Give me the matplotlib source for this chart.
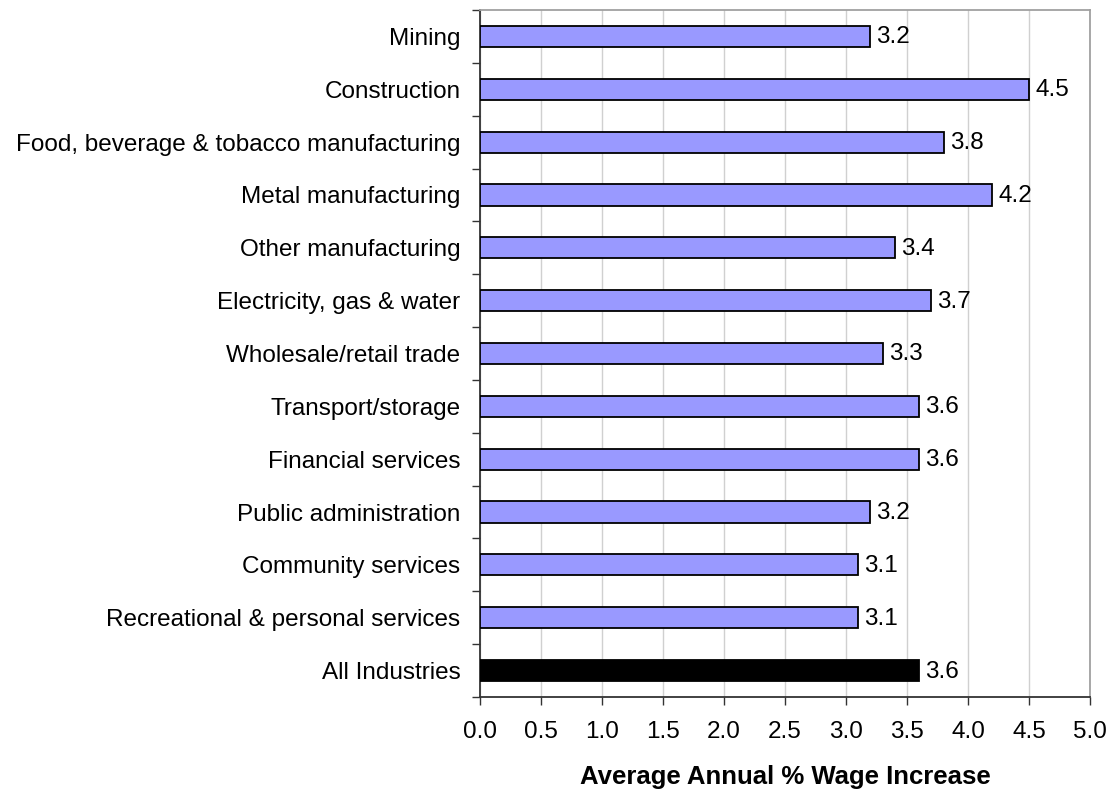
import matplotlib
matplotlib.use("Agg")
import matplotlib.pyplot as plt
import numpy as np

industries = [
    "Mining", "Construction", "Food, beverage & tobacco manufacturing",
    "Metal manufacturing", "Other manufacturing", "Electricity, gas & water",
    "Wholesale/retail trade", "Transport/storage", "Financial services",
    "Public administration", "Community services",
    "Recreational & personal services", "All Industries",
]
wage_increase = [3.2, 4.5, 3.8, 4.2, 3.4, 3.7, 3.3, 3.6, 3.6, 3.2, 3.1, 3.1, 3.6]
xticks = [0.0, 0.5, 1.0, 1.5, 2.0, 2.5, 3.0, 3.5, 4.0, 4.5, 5.0]

plt.rcParams["font.family"] = ["Liberation Sans", "DejaVu Sans"]
FS = 17.5

fig = plt.figure(figsize=(11.15, 7.91), dpi=100)
ax = fig.add_axes([0.4305, 0.1188, 0.5471, 0.8686])

y = np.arange(len(industries))
colors = ["#9999FF"] * (len(industries) - 1) + ["#000000"]
ax.barh(y, wage_increase, height=0.4, color=colors, edgecolor="black",
        linewidth=1.3, zorder=3)
for yi, v in zip(y, wage_increase):
    ax.text(v + 0.05, yi - 0.03, f"{v:.1f}", va="center_baseline", ha="left", fontsize=FS)

ax.set_xlim(0, 5)
ax.set_ylim(len(industries) - 0.5, -0.5)
ax.set_xticks(xticks)
ax.set_xticklabels([f"{t:.1f}" for t in xticks], fontsize=FS)
ax.set_yticks(y)
ax.set_yticklabels(industries, fontsize=FS)
ax.set_yticks(np.arange(len(industries) + 1) - 0.5, minor=True)
ax.tick_params(axis="y", which="major", length=0, pad=14)
ax.tick_params(axis="y", which="minor", length=6, width=1, color="#333333")
ax.tick_params(axis="x", length=6, width=1, color="#333333", pad=11)

ax.grid(axis="x", color="#d0d0d0", linewidth=1, zorder=0)
ax.set_axisbelow(True)
for s in ("left", "bottom"):
    ax.spines[s].set_color("#333333")
    ax.spines[s].set_linewidth(1.3)
for s in ("right", "top"):
    ax.spines[s].set_color("#a0a0a0")
    ax.spines[s].set_linewidth(1.3)

ax.set_xlabel("Average Annual % Wage Increase", fontsize=18.5, fontweight="bold",
              labelpad=16)

fig.savefig("out.png", dpi=100)
